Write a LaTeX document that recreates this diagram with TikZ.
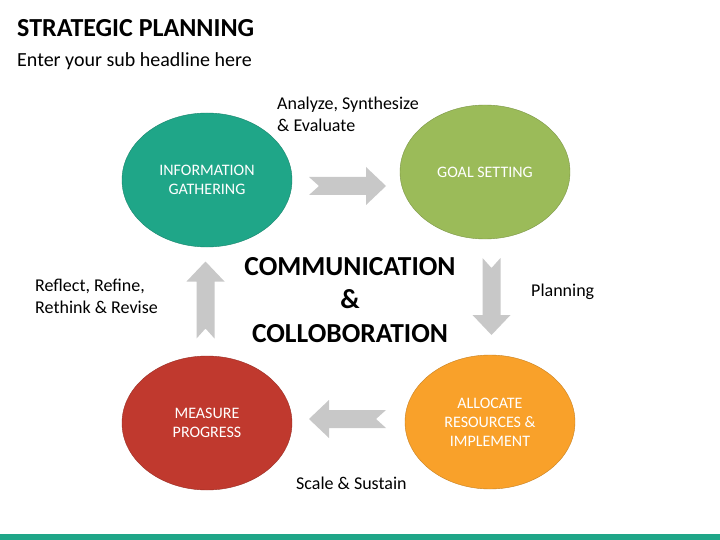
\documentclass[tikz,border=0pt]{standalone}
\usepackage{fontspec}
\setmainfont{Carlito}
\usetikzlibrary{positioning, shapes.geometric}

\definecolor{tealc}{HTML}{1FA688}
\definecolor{greenc}{HTML}{9BBB59}
\definecolor{orangec}{HTML}{F9A12A}
\definecolor{redc}{HTML}{C0392E}
\definecolor{arrowc}{HTML}{C8C8C8}

\tikzset{
  stage/.style={ellipse, minimum width=170pt, minimum height=134pt, inner sep=0pt,
    align=center, text=white, font=\fontsize{16}{19}\selectfont},
  note/.style={anchor=base west, align=left, inner sep=0pt, font=\fontsize{18}{22}\selectfont},
  grayarrow/.pic={
    \fill[arrowc] (-38.5,-9) -- (18.5,-9) -- (18.5,-19) -- (38.5,0) -- (18.5,19)
      -- (18.5,9) -- (-38.5,9) -- (-28.5,0) -- cycle;
  }
}

\begin{document}
\begin{tikzpicture}[x=1pt, y=-1pt]
\useasboundingbox (0,0) rectangle (720,540);
\fill[white] (0,0) rectangle (720,540);
% bottom bar
\fill[tealc] (0,534) rectangle (720,540);

% headings
\node[anchor=base west, inner sep=0pt, font=\fontsize{26}{30}\selectfont\bfseries] (title) at (17,37) {STRATEGIC PLANNING};
\node[anchor=base west, inner sep=0pt, font=\fontsize{20}{24}\selectfont] (subtitle) at (17,67) {Enter your sub headline here};

% stages
\node[stage, fill=tealc, draw=tealc!80!black] (info) at (207,180) {INFORMATION\\GATHERING};
\node[stage, fill=greenc, draw=greenc!80!black] (goal) at (485,172) {GOAL SETTING};
\node[stage, fill=orangec, draw=orangec!80!black] (alloc) at (490,422) {ALLOCATE\\RESOURCES \&\\IMPLEMENT};
\node[stage, fill=redc, draw=redc!80!black] (measure) at (207,423) {MEASURE\\PROGRESS};

% arrows between stages
\pic at (347.5,186) {grayarrow};
\pic[rotate=-90] at (491.5,296.5) {grayarrow};
\pic[rotate=180] at (347.5,419) {grayarrow};
\pic[rotate=90] at (205.5,300) {grayarrow};

% centre text
\node[anchor=base, align=center, inner sep=0pt, font=\fontsize{27.5}{33.5}\selectfont\bfseries] (comm) at (350,342) {COMMUNICATION\\\&\\COLLOBORATION};

% labels
\node[note] (analyze) at (277,132) {Analyze, Synthesize\\\& Evaluate};
\node[note] (plan) at (531,296) {Planning};
\node[note] (scale) at (296,489) {Scale \& Sustain};
\node[note] (reflect) at (35,313) {Reflect, Refine,\\Rethink \& Revise};
\end{tikzpicture}
\end{document}
